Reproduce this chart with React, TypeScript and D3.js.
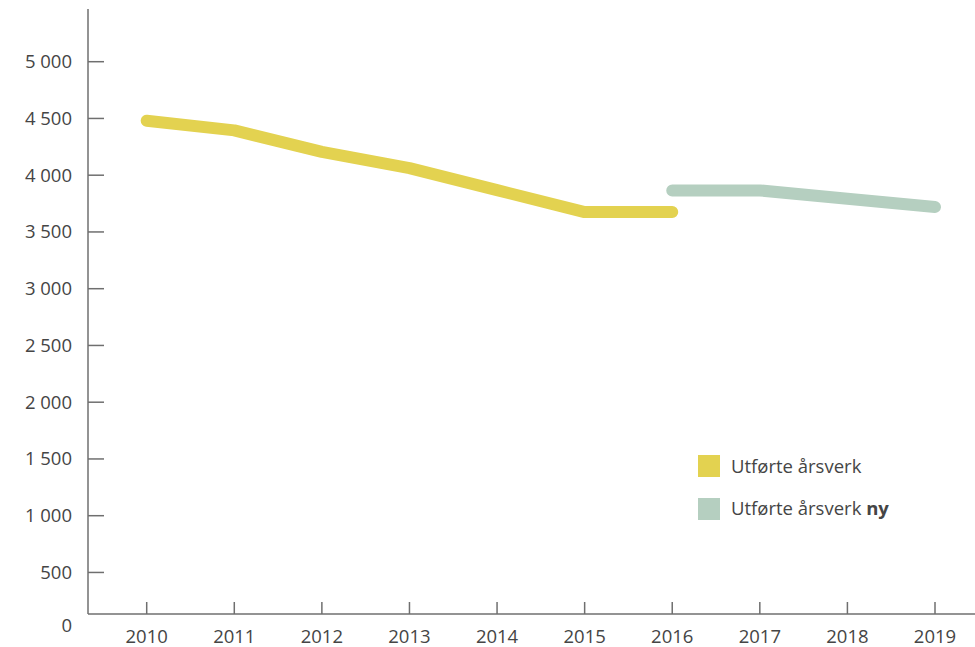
import React from 'react';
import * as d3 from 'd3';

const years = [2010, 2011, 2012, 2013, 2014, 2015, 2016, 2017, 2018, 2019];
const oldYears = [2010, 2011, 2012, 2013, 2014, 2015, 2016];
const oldValues = [4480, 4395, 4205, 4062, 3868, 3675, 3675];
const newYears = [2016, 2017, 2018, 2019];
const newValues = [3866, 3866, 3792, 3720];
const yTicks = [0, 500, 1000, 1500, 2000, 2500, 3000, 3500, 4000, 4500, 5000];
const legendLabels = ['Utførte årsverk', 'Utførte årsverk'];

const W = 975;
const H = 647;
const axisX = 88;
const axisY = 614;
const textColor = '#454545';
const axisColor = '#6f6f6f';
const yellow = '#e3d250';
const green = '#b5cfc0';
const font = '"Open Sans", Roboto, sans-serif';
const fs = 18.5;

const fmt = (v: number) => d3.format(',')(v).replace(/,/g, ' ');

const App = () => {
  const x = d3.scalePoint<number>().domain(years).range([146.7, 935]);
  const y = d3.scaleLinear().domain([0, 5000]).range([629.2, 61.7]);

  const line = d3.line<[number, number]>()
    .x(d => x(d[0]) as number)
    .y(d => y(d[1]));

  const oldData = oldYears.map((yr, i) => [yr, oldValues[i]] as [number, number]);
  const newData = newYears.map((yr, i) => [yr, newValues[i]] as [number, number]);

  return (
    <svg width={W} height={H} style={{ position: 'absolute', left: 0, top: 0 }}>
      <rect width={W} height={H} fill="#fff" />

      {/* y axis */}
      <line x1={axisX} x2={axisX} y1={9} y2={axisY} stroke={axisColor} strokeWidth={1.5} />
      {yTicks.map(t => (
        <g key={t}>
          {t > 0 && (
            <line x1={axisX} x2={axisX + 16} y1={y(t)} y2={y(t)} stroke={axisColor} strokeWidth={1.5} />
          )}
          <text x={72} y={t === 0 ? y(t) - 4 : y(t)} dy="0.35em" textAnchor="end"
            fontFamily={font} fontSize={fs} fill={textColor} style={{ whiteSpace: 'pre' }}>{fmt(t)}</text>
        </g>
      ))}

      {/* x axis */}
      <line x1={axisX} x2={W} y1={axisY} y2={axisY} stroke={axisColor} strokeWidth={1.5} />
      {years.map(yr => (
        <g key={yr}>
          <line x1={x(yr)} x2={x(yr)} y1={axisY} y2={axisY - 12} stroke={axisColor} strokeWidth={1.5} />
          <text x={x(yr)} y={637} dy="0.35em" textAnchor="middle"
            fontFamily={font} fontSize={fs} fill={textColor}>{yr}</text>
        </g>
      ))}

      {/* series */}
      <path d={line(oldData) || ''} fill="none" stroke={yellow} strokeWidth={12}
        strokeLinecap="round" strokeLinejoin="round" />
      <path d={line(newData) || ''} fill="none" stroke={green} strokeWidth={12}
        strokeLinecap="round" strokeLinejoin="round" />

      {/* legend */}
      <rect x={698} y={455} width={22} height={22} fill={yellow} />
      <text x={731} y={466.5} dy="0.35em" fontFamily={font} fontSize={fs} fill={textColor}>
        {legendLabels[0]}
      </text>
      <rect x={698} y={498} width={22} height={22} fill={green} />
      <text x={731} y={509} dy="0.35em" fontFamily={font} fontSize={fs} fill={textColor}>
        {legendLabels[1]} <tspan fontWeight="bold">ny</tspan>
      </text>
    </svg>
  );
};

export default App;
